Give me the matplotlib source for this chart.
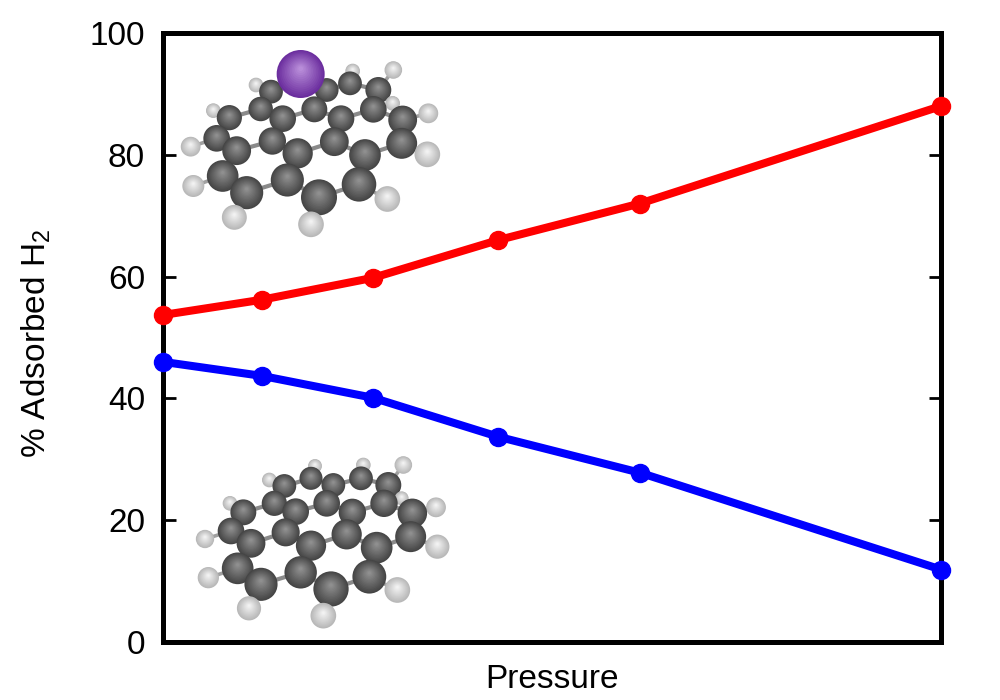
import matplotlib
matplotlib.use('Agg')
import matplotlib.pyplot as plt
import numpy as np
from matplotlib.patches import Circle

plt.rcParams['font.family'] = ['Liberation Sans', 'DejaVu Sans']
plt.rcParams['mathtext.default'] = 'regular'

# data
pressure = [0, 0.127, 0.270, 0.431, 0.613, 1.0]
red_series = [53.7, 56.2, 59.8, 66.0, 72.0, 88.0]
blue_series = [46.0, 43.7, 40.1, 33.7, 27.8, 11.9]
y_ticks = [0, 20, 40, 60, 80, 100]

###############
# molecules: x, y, radius as seen in the two pictures
###############
top_carbon = [(303, 155, 33), (390, 125, 33), (470, 150, 33), (540, 130, 33), (625, 150, 36),
              (272, 207, 34), (178, 233, 35), (338, 236, 37), (433, 208, 36), (513, 236, 37),
              (610, 208, 37), (698, 240, 40), (140, 295, 37), (200, 332, 40), (307, 303, 38),
              (383, 340, 42), (493, 305, 40), (585, 345, 44), (695, 310, 43), (158, 408, 44),
              (230, 458, 46), (352, 420, 46), (447, 472, 50), (567, 433, 48)]
top_hydrogen = [(258, 135, 20), (130, 212, 20), (62, 320, 27), (70, 438, 30), (193, 532, 34),
                (423, 553, 35), (652, 477, 35), (772, 343, 35), (775, 220, 27), (670, 90, 24),
                (548, 93, 20), (668, 190, 20)]
potassium = (392, 102, 72)

low_carbon = [(313, 108, 33), (393, 85, 32), (460, 105, 33), (543, 85, 33), (625, 105, 36),
              (283, 160, 35), (190, 187, 36), (347, 185, 37), (440, 160, 37), (517, 187, 38),
              (612, 160, 38), (697, 190, 41), (153, 243, 37), (213, 280, 40), (317, 247, 39),
              (393, 287, 42), (500, 253, 42), (590, 293, 44), (692, 260, 43), (173, 355, 44),
              (243, 403, 46), (362, 367, 45), (453, 417, 49), (568, 380, 47)]
low_hydrogen = [(268, 90, 20), (405, 48, 19), (550, 45, 20), (670, 45, 24), (665, 145, 19),
                (768, 172, 27), (150, 160, 20), (75, 267, 25), (85, 383, 29), (207, 475, 33),
                (430, 497, 35), (652, 420, 35), (772, 290, 33)]

cc_bonds = [(0, 1), (1, 2), (2, 3), (3, 4), (0, 5), (5, 6), (5, 7), (2, 8), (7, 8), (8, 9),
            (9, 10), (4, 10), (10, 11), (6, 12), (12, 13), (7, 14), (13, 14), (14, 15), (15, 16),
            (9, 16), (16, 17), (17, 18), (11, 18), (13, 19), (19, 20), (20, 21), (15, 21),
            (21, 22), (22, 23), (17, 23)]


def sphere(ax, x, y, r, dark, light, z):
    # stacked circles, moving towards the highlight
    dark = np.array(dark)
    light = np.array(light)
    for t in np.linspace(0, 1, 14):
        col = dark + (light - dark) * t
        ax.add_patch(Circle((x, y - 0.22 * r * t), r * (1 - 0.9 * t), color=col, lw=0, zorder=z))


def molecule(ax, carbon, hydrogen, left, top):
    # zoomed picture coordinates are 3x the figure pixels
    carbon = [(left + c[0] / 3, top + c[1] / 3, 1.08 * c[2] / 3) for c in carbon]
    hydrogen = [(left + h[0] / 3, top + h[1] / 3, 1.1 * h[2] / 3) for h in hydrogen]
    for i, j in cc_bonds:
        ax.plot([carbon[i][0], carbon[j][0]], [carbon[i][1], carbon[j][1]],
                color='#8a8a8a', lw=3, solid_capstyle='butt', zorder=1)
    for h in hydrogen:
        d = [(h[0] - c[0]) ** 2 + (h[1] - c[1]) ** 2 for c in carbon]
        c = carbon[int(np.argmin(d))]
        ax.plot([h[0], c[0]], [h[1], c[1]], color='#a0a0a0', lw=2.6,
                solid_capstyle='butt', zorder=1)
    atoms = [(c, 'C') for c in carbon] + [(h, 'H') for h in hydrogen]
    atoms.sort(key=lambda a: a[0][1])
    for n, (a, kind) in enumerate(atoms):
        if kind == 'C':
            sphere(ax, a[0], a[1], a[2], (0.27, 0.27, 0.27), (0.56, 0.56, 0.56), 2 + n)
        else:
            sphere(ax, a[0], a[1], a[2], (0.72, 0.72, 0.72), (0.95, 0.95, 0.95), 2 + n)


fig = plt.figure(figsize=(10, 7), dpi=100)
ax = fig.add_axes([163 / 1000, 1 - 642 / 700, 778 / 1000, 609 / 700])

ax.plot(pressure, red_series, '-o', color='#ff0000', lw=5.8, markersize=13, clip_on=False, zorder=5)
ax.plot(pressure, blue_series, '-o', color='#0000ff', lw=5.8, markersize=13, clip_on=False, zorder=5)

ax.set_xlim(0, 1)
ax.set_ylim(0, 100)
ax.set_xticks([])
ax.set_yticks(y_ticks)
ax.tick_params(axis='y', which='major', direction='in', left=True, right=True,
               length=9, width=2, labelsize=24, pad=13)
for s in ax.spines.values():
    s.set_linewidth(3.6)
ax.set_xlabel('Pressure', fontsize=24, labelpad=16)
ax.set_ylabel('% Adsorbed H$_2$', fontsize=24, labelpad=26, y=0.49)

###############
# overlay in figure pixels for the molecules
###############
over = fig.add_axes([0, 0, 1, 1], facecolor='none')
over.set_xlim(0, 1000)
over.set_ylim(700, 0)
over.axis('off')
molecule(over, top_carbon, top_hydrogen, 170, 40)
molecule(over, low_carbon, low_hydrogen, 180, 450)
sphere(over, 170 + potassium[0] / 3, 40 + potassium[1] / 3, potassium[2] / 3,
       (0.42, 0.18, 0.62), (0.72, 0.55, 0.85), 100)

plt.savefig('out.png', dpi=100)
